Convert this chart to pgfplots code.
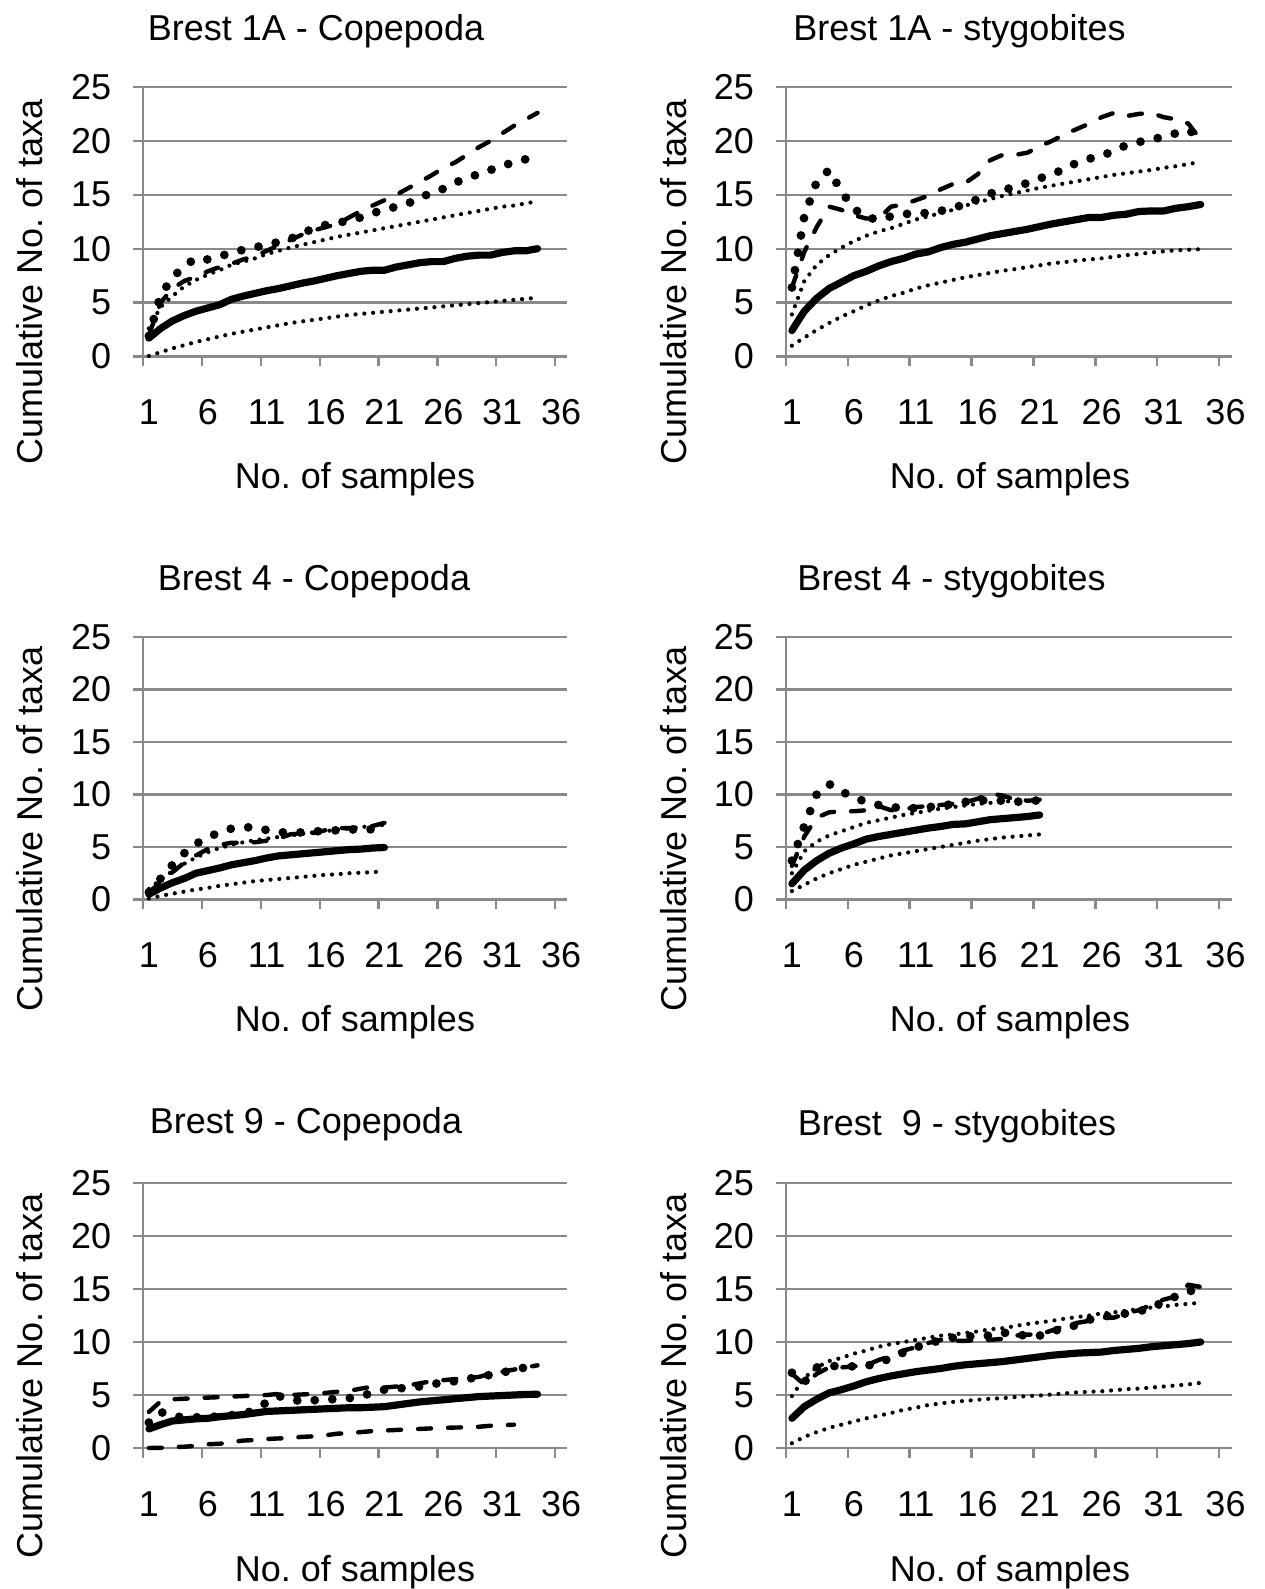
\documentclass[border=0pt]{standalone}
\usepackage{fontspec}
\setmainfont{Liberation Sans}
\usepackage{pgfplots}
\usepackage{pgfplotstable}
\pgfplotsset{compat=1.18}
\definecolor{axgray}{HTML}{898989}
\newcommand\fs{\fontsize{18}{21}\selectfont}
\frenchspacing

\pgfplotstableread{
k obs lo hi dash dot
1 1.7 0.05 2.6 2.0 1.9
2 2.6 0.4 4.6 5.0 5.7
3 3.3 0.75 5.6 6.3 7.3
4 3.8 1.05 6.5 7.0 8.4
5 4.2 1.35 7.1 7.4 9.1
6 4.5 1.6 7.6 7.9 9.0
7 4.8 1.85 8.0 8.3 9.3
8 5.3 2.1 8.5 8.6 9.6
9 5.6 2.3 8.8 9.0 9.9
10 5.85 2.5 9.1 9.3 10.1
11 6.1 2.7 9.5 9.8 10.4
12 6.3 2.9 9.8 10.3 10.6
13 6.55 3.1 10.1 10.8 10.9
14 6.8 3.25 10.35 11.3 11.4
15 7.0 3.4 10.6 11.7 11.9
16 7.25 3.55 10.85 12.0 12.2
17 7.5 3.7 11.1 12.3 12.4
18 7.7 3.85 11.3 12.9 12.6
19 7.9 3.95 11.5 13.5 12.9
20 8.0 4.05 11.7 14.0 13.3
21 8.0 4.15 11.9 14.5 13.6
22 8.3 4.25 12.1 15.0 13.9
23 8.5 4.35 12.3 15.6 14.2
24 8.7 4.45 12.5 16.2 14.7
25 8.8 4.55 12.7 16.8 15.2
26 8.8 4.65 12.9 17.5 15.55
27 9.1 4.75 13.1 18.0 16.1
28 9.3 4.85 13.3 18.7 16.6
29 9.4 4.95 13.5 19.4 16.9
30 9.4 5.05 13.7 20.0 17.3
31 9.65 5.15 13.9 20.7 17.7
32 9.8 5.25 14.0 21.4 18.0
33 9.8 5.35 14.2 22.0 18.3
34 10.0 5.45 14.4 22.6 18.5
}\tA

\pgfplotstableread{
k obs lo hi dash dot
1 2.4 1.0 3.9 6.4 6.4
2 4.2 1.75 7.0 9.7 13.0
3 5.4 2.45 8.5 12.0 16.2
4 6.3 3.1 9.4 13.9 17.3
5 6.9 3.7 10.1 13.6 15.3
6 7.5 4.2 10.7 13.1 13.7
7 7.9 4.75 11.2 12.8 12.9
8 8.4 5.2 11.6 12.8 12.7
9 8.8 5.6 11.9 13.9 13.0
10 9.1 5.9 12.3 14.1 13.2
11 9.5 6.3 12.7 14.5 13.3
12 9.7 6.6 13.0 14.9 13.3
13 10.1 6.85 13.3 15.5 13.5
14 10.4 7.1 13.6 16.0 13.8
15 10.6 7.35 14.0 16.1 14.1
16 10.9 7.55 14.3 16.9 14.6
17 11.2 7.75 14.6 18.2 15.1
18 11.4 7.95 14.9 18.7 15.5
19 11.6 8.1 15.15 18.7 15.65
20 11.8 8.3 15.4 18.9 16.1
21 12.05 8.45 15.65 19.5 16.5
22 12.3 8.65 15.85 20.0 17.0
23 12.5 8.75 16.05 20.6 17.3
24 12.7 8.9 16.25 21.1 18.0
25 12.9 9.0 16.45 21.6 18.35
26 12.9 9.1 16.65 22.2 18.6
27 13.1 9.25 16.85 22.6 19.1
28 13.2 9.4 17.0 22.3 19.6
29 13.45 9.5 17.15 22.5 19.9
30 13.5 9.65 17.3 22.6 20.1
31 13.5 9.75 17.5 22.2 20.4
32 13.75 9.85 17.65 22.0 20.7
33 13.9 9.9 17.85 21.6 21.0
34 14.1 9.95 18.05 20.1 20.3
}\tB

\pgfplotstableread{
k obs lo hi dash dot
1 0.5 0.1 1.0 0.7 0.7
2 1.1 0.35 1.9 1.6 2.0
3 1.6 0.55 2.7 2.6 3.3
4 2.0 0.75 3.4 3.5 4.4
5 2.5 0.95 4.0 4.2 5.3
6 2.75 1.1 4.5 4.8 5.9
7 3.0 1.3 4.9 5.2 6.4
8 3.3 1.45 5.2 5.4 6.75
9 3.5 1.6 5.45 5.4 6.85
10 3.7 1.75 5.65 5.45 6.9
11 3.95 1.85 5.8 5.6 6.6
12 4.15 1.95 5.95 5.8 6.45
13 4.25 2.05 6.1 6.2 6.3
14 4.35 2.15 6.25 6.3 6.4
15 4.45 2.25 6.4 6.35 6.5
16 4.55 2.35 6.5 6.6 6.5
17 4.65 2.4 6.65 6.8 6.6
18 4.75 2.5 6.75 6.8 6.7
19 4.8 2.55 6.9 6.9 6.6
20 4.9 2.6 7.0 7.0 6.7
21 4.95 2.7 7.1 7.3 6.8
}\tC

\pgfplotstableread{
k obs lo hi dash dot
1 1.5 0.8 2.5 3.2 3.7
2 2.8 1.4 4.6 6.0 7.0
3 3.7 2.0 5.5 7.8 10.0
4 4.4 2.5 6.1 8.3 11.0
5 4.9 2.9 6.5 8.4 10.3
6 5.3 3.3 6.9 8.4 9.7
7 5.75 3.6 7.3 8.5 9.3
8 6.0 3.9 7.55 8.9 9.0
9 6.2 4.2 7.8 8.5 8.8
10 6.4 4.4 8.05 8.6 8.7
11 6.6 4.6 8.25 8.8 8.7
12 6.8 4.8 8.45 8.9 8.8
13 6.95 5.0 8.65 9.0 8.9
14 7.15 5.2 8.8 9.1 9.1
15 7.2 5.4 8.95 9.25 9.3
16 7.4 5.6 9.1 9.6 9.4
17 7.6 5.75 9.2 10.1 9.5
18 7.7 5.9 9.3 9.9 9.4
19 7.8 6.0 9.4 9.5 9.3
20 7.9 6.1 9.45 9.4 9.35
21 8.05 6.2 9.5 9.5 9.45
}\tD

\pgfplotstableread{
k obs lo hi dot
1 1.8 0.0 3.4 2.4
2 2.2 0.02 4.4 3.4
3 2.55 0.08 4.6 3.0
4 2.65 0.12 4.65 2.9
5 2.75 0.2 4.7 2.9
6 2.8 0.35 4.75 2.9
7 2.95 0.4 4.8 3.0
8 3.05 0.55 4.85 3.1
9 3.15 0.7 4.9 3.2
10 3.3 0.75 4.95 3.6
11 3.45 0.85 5.0 4.3
12 3.5 0.9 5.1 4.9
13 3.55 0.95 5.0 4.6
14 3.6 1.05 5.05 4.4
15 3.65 1.1 5.1 4.5
16 3.7 1.2 5.2 4.6
17 3.75 1.35 5.3 4.6
18 3.8 1.4 5.4 4.7
19 3.8 1.5 5.6 4.9
20 3.85 1.6 5.8 5.2
21 3.9 1.65 5.7 5.5
22 4.05 1.7 5.8 5.6
23 4.2 1.75 5.9 5.7
24 4.35 1.8 6.1 5.8
25 4.45 1.85 6.3 6.0
26 4.55 1.9 6.4 6.2
27 4.65 1.93 6.5 6.3
28 4.75 1.95 6.6 6.5
29 4.85 2.0 6.7 6.7
30 4.9 2.1 7.0 6.9
31 4.95 2.15 7.2 7.1
32 5.0 2.2 7.4 7.4
33 5.05 nan 7.6 7.6
34 5.07 nan 7.8 7.8
}\tE

\pgfplotstableread{
k obs lo hi dash dot
1 2.8 0.45 4.9 7.0 7.1
2 3.9 1.05 6.6 6.0 6.2
3 4.6 1.5 7.6 7.0 7.6
4 5.2 1.9 8.2 7.6 7.75
5 5.5 2.2 8.5 7.6 7.7
6 5.85 2.5 8.9 7.7 7.7
7 6.25 2.8 9.2 7.8 7.75
8 6.55 3.05 9.55 8.3 8.0
9 6.8 3.3 9.8 8.7 8.5
10 7.0 3.6 10.0 9.2 9.0
11 7.2 3.8 10.2 9.5 9.5
12 7.35 4.05 10.4 9.9 9.8
13 7.5 4.2 10.6 10.2 10.2
14 7.7 4.35 10.7 10.1 10.4
15 7.85 4.45 10.85 10.1 10.5
16 7.95 4.55 11.0 10.2 10.6
17 8.05 4.65 11.2 10.2 10.6
18 8.15 4.7 11.3 10.3 10.9
19 8.3 4.8 11.5 10.6 10.7
20 8.45 4.9 11.7 10.7 10.6
21 8.6 4.95 11.85 10.7 10.6
22 8.75 5.05 12.0 11.1 11.0
23 8.85 5.15 12.2 11.5 11.3
24 8.95 5.25 12.35 11.8 11.6
25 9.0 5.3 12.5 12.0 12.1
26 9.05 5.35 12.7 12.3 12.4
27 9.2 5.45 12.8 12.3 12.5
28 9.3 5.55 12.95 12.7 12.7
29 9.4 5.6 13.1 13.0 12.9
30 9.55 5.7 13.25 13.5 13.2
31 9.65 5.8 13.35 14.0 13.8
32 9.75 5.9 13.5 14.3 14.3
33 9.85 6.0 13.6 15.4 14.8
34 10.0 6.15 13.7 15.2 14.9
}\tF

\pgfplotsset{
  panel/.style={
    scale only axis,
    xmin=0.5, xmax=36.5, ymin=0, ymax=25, enlargelimits=false,
    axis lines=left, axis line style={-, draw=axgray, line width=1.1pt},
    xtick={0.5,5.5,...,35.5}, xticklabels={1,6,11,16,21,26,31,36},
    ytick={0,5,...,25}, yticklabels={0,5,10,15,20,25},
    ymajorgrids, grid style={draw=axgray, line width=1.1pt},
    tick align=outside, major tick length=5pt,
    tick style={draw=axgray, line width=1.1pt},
    tick label style={font=\fs, inner sep=0pt, text=black},
    yticklabel style={anchor=east, xshift=-10.75pt},
    clip=false,
    /pgf/number format/assume math mode=true,
    anchor=south west,
  },
  panelL/.style={panel, width=212pt, xticklabel style={anchor=base, yshift=-29.25pt, xshift=2.94pt}},
  panelR/.style={panel, width=223pt, xticklabel style={anchor=base, yshift=-29.25pt, xshift=3.1pt}},
  obs/.style={black, line width=3.6pt, line join=round, line cap=round},
  ci/.style={black, line width=2.1pt, line cap=round, dash pattern=on 0pt off 4.4pt},
  cidash/.style={black, line width=2.2pt, line cap=round, dash pattern=on 6.5pt off 8.5pt},
  est/.style={black, line width=2.2pt, line cap=round, dash pattern=on 6.5pt off 8.5pt},
  dots/.style={black, line width=4.4pt, line cap=round, dash pattern=on 0pt off 8.8pt},
}

\begin{document}
\begin{tikzpicture}
\useasboundingbox (0,0) rectangle (632pt,794.5pt);

% Row 1
\begin{axis}[panelL, at={(71.5pt,616.25pt)}, height=134.75pt]
\addplot[ci] table[x=k,y=lo]{\tA};
\addplot[ci] table[x=k,y=hi]{\tA};
\addplot[est] table[x=k,y=dash]{\tA};
\addplot[dots] table[x=k,y=dot]{\tA};
\addplot[obs] table[x=k,y=obs]{\tA};
\end{axis}
\begin{axis}[panelR, at={(392.85pt,616.25pt)}, height=134.75pt]
\addplot[ci] table[x=k,y=lo]{\tB};
\addplot[ci] table[x=k,y=hi]{\tB};
\addplot[est] table[x=k,y=dash]{\tB};
\addplot[dots] table[x=k,y=dot]{\tB};
\addplot[obs] table[x=k,y=obs]{\tB};
\end{axis}

% Row 2
\begin{axis}[panelL, at={(71.5pt,344.75pt)}, height=131.25pt]
\addplot[ci] table[x=k,y=lo]{\tC};
\addplot[ci] table[x=k,y=hi]{\tC};
\addplot[est] table[x=k,y=dash]{\tC};
\addplot[dots] table[x=k,y=dot]{\tC};
\addplot[obs] table[x=k,y=obs]{\tC};
\end{axis}
\begin{axis}[panelR, at={(392.85pt,344.75pt)}, height=131.25pt]
\addplot[ci] table[x=k,y=lo]{\tD};
\addplot[ci] table[x=k,y=hi]{\tD};
\addplot[est] table[x=k,y=dash]{\tD};
\addplot[dots] table[x=k,y=dot]{\tD};
\addplot[obs] table[x=k,y=obs]{\tD};
\end{axis}

% Row 3
\begin{axis}[panelL, at={(71.5pt,70.5pt)}, height=132.5pt]
\addplot[cidash] table[x=k,y=lo]{\tE};
\addplot[cidash] table[x=k,y=hi]{\tE};
\addplot[dots] table[x=k,y=dot]{\tE};
\addplot[obs] table[x=k,y=obs]{\tE};
\end{axis}
\begin{axis}[panelR, at={(392.85pt,70.5pt)}, height=132.5pt]
\addplot[ci] table[x=k,y=lo]{\tF};
\addplot[ci] table[x=k,y=hi]{\tF};
\addplot[est] table[x=k,y=dash]{\tF};
\addplot[dots] table[x=k,y=dot]{\tF};
\addplot[obs] table[x=k,y=obs]{\tF};
\end{axis}

\begin{scope}[every node/.style={font=\fs, inner sep=0pt, text=black}]
% titles
\node[anchor=base] at (158pt,774.25pt) {Brest 1A - Copepoda};
\node[anchor=base] at (479.75pt,774.25pt) {Brest 1A - stygobites};
\node[anchor=base] at (157pt,499pt) {Brest 4 - Copepoda};
\node[anchor=base] at (475.75pt,499pt) {Brest 4 - stygobites};
\node[anchor=base] at (153pt,227.5pt) {Brest 9 - Copepoda};
\node[anchor=base] at (478.5pt,226.5pt) {Brest\ \ 9 - stygobites};
% y labels
\node[anchor=base, rotate=90] at (21.25pt,653.5pt) {Cumulative No. of taxa};
\node[anchor=base, rotate=90] at (343pt,653.5pt) {Cumulative No. of taxa};
\node[anchor=base, rotate=90] at (21.25pt,380pt) {Cumulative No. of taxa};
\node[anchor=base, rotate=90] at (343pt,380pt) {Cumulative No. of taxa};
\node[anchor=base, rotate=90] at (21.25pt,106.5pt) {Cumulative No. of taxa};
\node[anchor=base, rotate=90] at (343pt,106.5pt) {Cumulative No. of taxa};
% x labels
\node[anchor=base] at (177.5pt,550.25pt) {No. of samples};
\node[anchor=base] at (505pt,550.25pt) {No. of samples};
\node[anchor=base] at (177.5pt,278.5pt) {No. of samples};
\node[anchor=base] at (505pt,278.5pt) {No. of samples};
\node[anchor=base] at (177.5pt,3.75pt) {No. of samples};
\node[anchor=base] at (505pt,3.75pt) {No. of samples};
\end{scope}
\end{tikzpicture}
\end{document}
